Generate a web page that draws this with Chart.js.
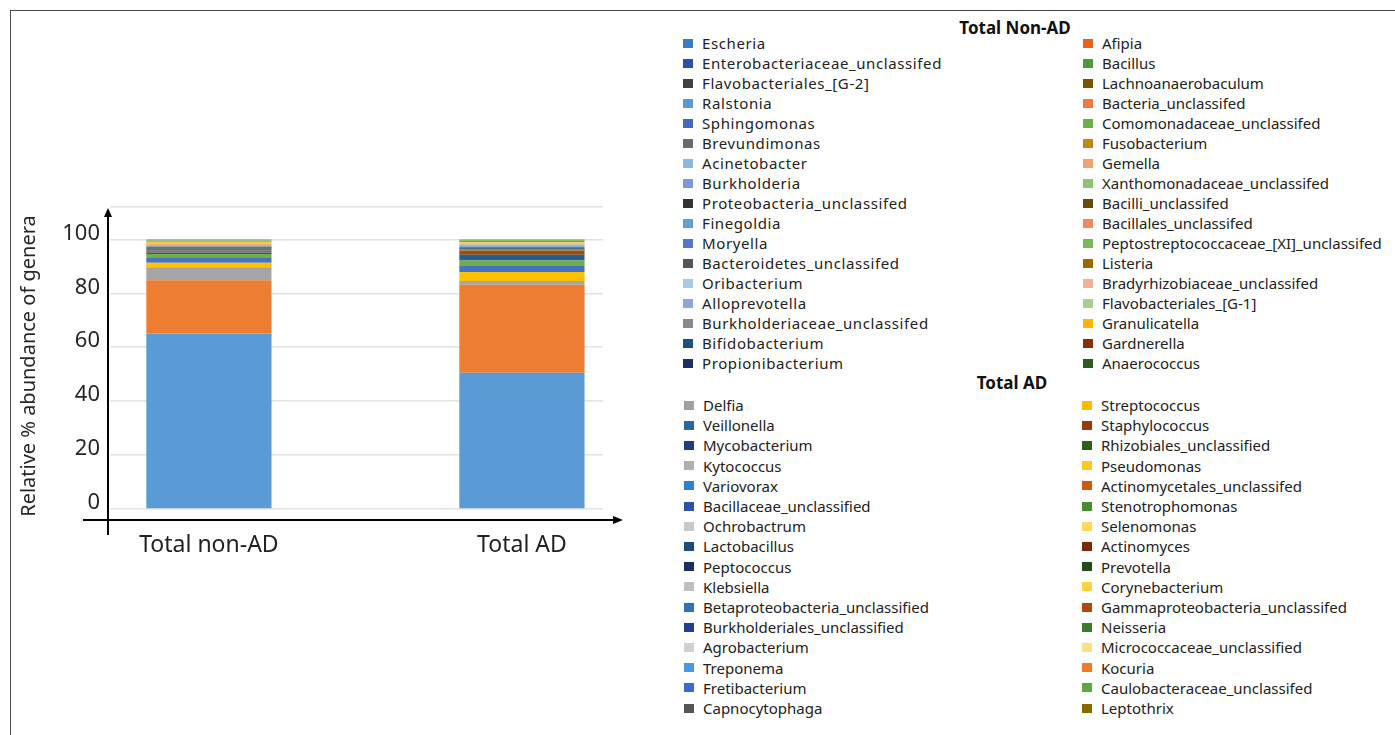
<!DOCTYPE html>
<html>
<head>
<meta charset="utf-8">
<script src="https://cdn.jsdelivr.net/npm/chart.js@4"></script>
<style>
  html, body { margin: 0; padding: 0; background: #fff; }
  body { width: 1395px; height: 735px; position: relative; overflow: hidden; font-family: "Noto Sans", "Open Sans", sans-serif; }
  #frame { position: absolute; left: 10px; top: 10px; right: -5px; bottom: -5px; border-top: 1.5px solid #4a4a4a; border-left: 1.5px solid #4a4a4a; }
  #chartBox { position: absolute; left: 0; top: 0; width: 640px; height: 735px; }
  .lg-head { position: absolute; font-weight: bold; font-size: 17px; line-height: 20px; color: #111; transform: translateX(-50%); white-space: nowrap; }
  .lg-row { position: absolute; height: 20px; line-height: 20px; font-size: 15px; color: #222; white-space: nowrap; }
  .lg-row.wide { letter-spacing: 0.6px; }
  .lg-row i { position: absolute; left: 0; top: 5.5px; width: 10px; height: 9px; }
  .lg-row span { position: absolute; left: 19px; top: 0; }
</style>
</head>
<body>
<div id="frame"></div>
<div id="chartBox"><canvas id="abundanceChart" width="640" height="735"></canvas></div>
<script>
/* ── 데이터 ── */
const categories = ['Total non-AD', 'Total AD'];

// stacked segments, bottom to top (% of genera)
const nonAdShares = [65.1, 19.7, 4.9, 1.6, 1.8, 1.5, 0.5, 0.5, 0.4, 0.5, 0.4, 0.4, 0.5, 0.4, 0.4, 0.5, 0.4, 0.5];
const adShares    = [50.5, 32.7, 1.4, 3.3, 2.2, 2.1, 2.1, 1.0, 0.5, 0.4, 0.5, 0.4, 0.5, 0.4, 0.5, 0.4, 0.5, 0.6];
const segmentColors = ['#5B9BD5', '#ED7D31', '#A5A5A5', '#FFC000', '#4472C4', '#70AD47',
  '#255E91', '#9E480E', '#636363', '#997300', '#264478', '#43682B',
  '#7CAFDD', '#F1975A', '#B7B7B7', '#FFCD33', '#698ED0', '#8CC168'];

const yGridValues = [0, 10, 20, 30, 40, 50, 60, 70, 80, 90, 100, 110, 112];
const yLabelValues = [0, 20, 40, 60, 80, 100];
const yTitle = 'Relative % abundance of genera';

const nonAdLeft = [
  ['Escheria', '#3a7bc8'], ['Enterobacteriaceae_unclassifed', '#2c4fa8'], ['Flavobacteriales_[G-2]', '#404040'],
  ['Ralstonia', '#5b9bd5'], ['Sphingomonas', '#4468c0'], ['Brevundimonas', '#6b6b6b'],
  ['Acinetobacter', '#8db8e2'], ['Burkholderia', '#7e98d8'], ['Proteobacteria_unclassifed', '#333333'],
  ['Finegoldia', '#5fa0dc'], ['Moryella', '#5874c8'], ['Bacteroidetes_unclassifed', '#555555'],
  ['Oribacterium', '#a8c8ea'], ['Alloprevotella', '#8fa6dc'], ['Burkholderiaceae_unclassifed', '#8a8a8a'],
  ['Bifidobacterium', '#1f4e84'], ['Propionibacterium', '#1a2f66'],
];
const nonAdRight = [
  ['Afipia', '#e8601c'], ['Bacillus', '#4c9a3a'], ['Lachnoanaerobaculum', '#7a5200'],
  ['Bacteria_unclassifed', '#ee7a40'], ['Comomonadaceae_unclassifed', '#6cb04a'], ['Fusobacterium', '#c08a10'],
  ['Gemella', '#f2a070'], ['Xanthomonadaceae_unclassifed', '#8cc474'], ['Bacilli_unclassifed', '#6a4a08'],
  ['Bacillales_unclassifed', '#f08a5a'], ['Peptostreptococcaceae_[XI]_unclassifed', '#78b858'], ['Listeria', '#9a6a00'],
  ['Bradyrhizobiaceae_unclassifed', '#f4b090'], ['Flavobacteriales_[G-1]', '#a6d090'], ['Granulicatella', '#ffb400'],
  ['Gardnerella', '#8a2e08'], ['Anaerococcus', '#2e5a22'],
];
const adLeft = [
  ['Delfia', '#a0a0a0'], ['Veillonella', '#2668a0'], ['Mycobacterium', '#203c80'], ['Kytococcus', '#b0b0b0'],
  ['Variovorax', '#2f80d0'], ['Bacillaceae_unclassified', '#2c52a8'], ['Ochrobactrum', '#c8c8c8'],
  ['Lactobacillus', '#1c4c7c'], ['Peptococcus', '#1a2f60'], ['Klebsiella', '#bebebe'],
  ['Betaproteobacteria_unclassified', '#2e72b8'], ['Burkholderiales_unclassified', '#223f90'],
  ['Agrobacterium', '#d0d0d0'], ['Treponema', '#4c9ade'], ['Fretibacterium', '#3a6ad0'], ['Capnocytophaga', '#555555'],
];
const adRight = [
  ['Streptococcus', '#ffbb00'], ['Staphylococcus', '#9a3a0a'], ['Rhizobiales_unclassified', '#2f5e1e'],
  ['Pseudomonas', '#ffc820'], ['Actinomycetales_unclassifed', '#d05a0a'], ['Stenotrophomonas', '#4a8a30'],
  ['Selenomonas', '#ffd860'], ['Actinomyces', '#7a2a08'], ['Prevotella', '#244a18'],
  ['Corynebacterium', '#ffd040'], ['Gammaproteobacteria_unclassifed', '#b04808'], ['Neisseria', '#3c7a2c'],
  ['Micrococcaceae_unclassified', '#ffe080'], ['Kocuria', '#f07a28'], ['Caulobacteraceae_unclassifed', '#5aaa3c'],
  ['Leptothrix', '#8a6a00'],
];

/* ── 범례 (HTML) ── */
function addHeading(text, cx, cy) {
  const el = document.createElement('div');
  el.className = 'lg-head';
  el.style.left = cx + 'px';
  el.style.top = (cy - 10) + 'px';
  el.textContent = text;
  document.body.appendChild(el);
}

function addLegend(items, left, firstY, step, wide) {
  items.forEach(([name, color], i) => {
    const row = document.createElement('div');
    row.className = wide ? 'lg-row wide' : 'lg-row';
    row.style.left = left + 'px';
    row.style.top = (firstY + i * step - 10) + 'px';
    const sw = document.createElement('i');
    sw.style.background = color;
    const tx = document.createElement('span');
    tx.textContent = name;
    row.appendChild(sw);
    row.appendChild(tx);
    document.body.appendChild(row);
  });
}

addHeading('Total Non-AD', 1015, 28);
addLegend(nonAdLeft, 683, 43, 20, true);
addLegend(nonAdRight, 1083, 43, 20);
addHeading('Total AD', 1012, 383);
addLegend(adLeft, 684, 405, 20.2);
addLegend(adRight, 1082, 405, 20.2);

/* ── 축 화살표 + y축 제목 ── */
const axisArrows = {
  id: 'axisArrows',
  afterDraw(chart) {
    const { ctx, chartArea: a } = chart;
    const axisY = a.bottom + 11;
    const axisX = a.left - 2;
    ctx.save();
    ctx.strokeStyle = '#000';
    ctx.fillStyle = '#000';
    ctx.lineWidth = 2;
    ctx.beginPath();
    ctx.moveTo(axisX, axisY + 15);
    ctx.lineTo(axisX, a.top + 8);
    ctx.moveTo(a.left - 27, axisY);
    ctx.lineTo(a.right + 12, axisY);
    ctx.stroke();
    ctx.beginPath();
    ctx.moveTo(axisX, a.top + 1);
    ctx.lineTo(axisX - 4, a.top + 10);
    ctx.lineTo(axisX + 4, a.top + 10);
    ctx.fill();
    ctx.beginPath();
    ctx.moveTo(a.right + 20, axisY);
    ctx.lineTo(a.right + 10, axisY - 4);
    ctx.lineTo(a.right + 10, axisY + 4);
    ctx.fill();

    // rotated title, sits a bit lower than the plot centre in the original
    ctx.translate(29, (a.top + a.bottom) / 2 + 8);
    ctx.rotate(-Math.PI / 2);
    ctx.fillStyle = '#262626';
    ctx.font = '20px "Noto Sans", "Open Sans", sans-serif';
    ctx.textAlign = 'center';
    ctx.textBaseline = 'middle';
    ctx.fillText(yTitle, 0, 0);
    ctx.restore();
  },
};

/* ── 차트 ── */
Chart.defaults.font.family = '"Noto Sans", "Open Sans", sans-serif';

new Chart(document.getElementById('abundanceChart'), {
  type: 'bar',
  data: {
    datasets: nonAdShares.map((v, i) => ({
      label: `Segment ${i + 1}`,
      data: [{ x: 0, y: v }, { x: 1, y: adShares[i] }],
      backgroundColor: segmentColors[i],
      borderWidth: 0,
      barPercentage: 0.5,
      categoryPercentage: 0.8,
    })),
  },
  options: {
    responsive: false,
    animation: false,
    layout: { padding: { left: 0, top: 207, right: 37, bottom: 176 } },
    plugins: { legend: { display: false }, tooltip: { enabled: false } },
    scales: {
      x: {
        type: 'linear',
        stacked: true,
        offset: false,
        min: -0.316,
        max: 1.259,
        grid: { display: false },
        border: { display: false },
        afterBuildTicks(axis) { axis.ticks = categories.map((_, i) => ({ value: i })); },
        afterFit(axis) { axis.height = 50; },
        ticks: {
          autoSkip: false,
          maxRotation: 0,
          color: '#222',
          font: { size: 23 },
          padding: 15,
          callback: (v) => categories[v] ?? '',
        },
      },
      y: {
        stacked: true,
        min: 0,
        max: 112,
        afterBuildTicks(axis) { axis.ticks = yGridValues.map((v) => ({ value: v })); },
        afterFit(axis) { axis.width = 110; },
        grid: { color: '#e2e2e2', lineWidth: 1.5, drawTicks: false },
        border: { display: false },
        ticks: {
          color: '#262626',
          font: { size: 22 },
          padding: 10,
          labelOffset: -6,
          callback: (v) => (yLabelValues.includes(v) ? String(v) : ''),
        },
      },
    },
  },
  plugins: [axisArrows],
});
</script>
</body>
</html>
